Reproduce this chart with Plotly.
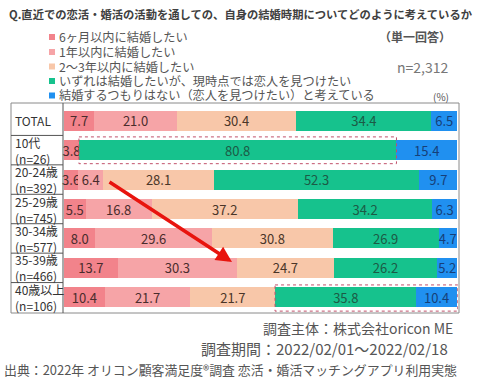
import plotly.graph_objects as go

# ---- data ----
categories = ["TOTAL", "10代<br>(n=26)", "20-24歳<br>(n=392)", "25-29歳<br>(n=745)",
              "30-34歳<br>(n=577)", "35-39歳<br>(n=466)", "40歳以上<br>(n=106)"]
series_names = ["6ヶ月以内に結婚したい", "1年以内に結婚したい", "2～3年以内に結婚したい",
                "いずれは結婚したいが、現時点では恋人を見つけたい",
                "結婚するつもりはない（恋人を見つけたい）と考えている"]
within_6m = [7.7, 3.8, 3.6, 5.5, 8.0, 13.7, 10.4]
within_1y = [21.0, 0.0, 6.4, 16.8, 29.6, 30.3, 21.7]
within_2_3y = [30.4, 0.0, 28.1, 37.2, 30.8, 24.7, 21.7]
someday = [34.4, 80.8, 52.3, 34.2, 26.9, 26.2, 35.8]
no_marriage = [6.5, 15.4, 9.7, 6.3, 4.7, 5.2, 10.4]
series_values = [within_6m, within_1y, within_2_3y, someday, no_marriage]

colors = ["#F2838B", "#F6A4A7", "#F8C7A9", "#16C28D", "#2090F0"]
text_colors = ["#4a2c2c", "#4a2c2c", "#4a3528", "#1c5a45", "#163f78"]

FONT = "Noto Sans CJK JP"
W, H = 490, 384
BAR_L, BAR_R = 64, 457          # pixel extent of 0..100 %
SCALE = (BAR_R - BAR_L) / 100.0
ML, MR, MT, MB = 44, 32, 106, 72  # plot area slightly wider so edge labels are not clipped
PW, PH = W - ML - MR, H - MT - MB
N = len(categories)


def px(x):
    return (x - ML) / PW


def py(y):
    return (H - MB - y) / PH


def dx(x):
    return (x - BAR_L) / SCALE


def dy(y):
    return (y - MT) / PH * N - 0.5


fig = go.Figure()
for name, vals, col, tcol in zip(series_names, series_values, colors, text_colors):
    fig.add_trace(go.Bar(
        y=categories, x=vals, name=name, orientation="h",
        marker=dict(color=col, line=dict(width=0)),
        text=[f"{v:.1f}" if v > 0 else "" for v in vals],
        textposition="inside", insidetextanchor="middle", textangle=0,
        textfont=dict(family=FONT, size=13, color=tcol),
        hoverinfo="skip",
    ))

shapes = []
annotations = []

# outer table box
shapes.append(dict(type="rect", xref="paper", yref="paper",
                   x0=px(11), x1=px(459), y0=py(313), y1=py(103),
                   line=dict(color="#8a8a8a", width=1)))
# label column right border
shapes.append(dict(type="line", xref="paper", yref="paper",
                   x0=px(63), x1=px(63), y0=py(313), y1=py(103),
                   line=dict(color="#555555", width=1)))
# row separators in label column
for i in range(N - 1):
    yy = 1 - (i + 1) / N
    shapes.append(dict(type="line", xref="paper", yref="paper",
                       x0=px(11), x1=px(63), y0=yy, y1=yy,
                       line=dict(color="#555555", width=1)))

# category labels
for i, c in enumerate(categories):
    yc = 1 - (i + 0.5) / N
    annotations.append(dict(text=c, xref="paper", yref="paper", x=px(13), y=yc,
                            xanchor="left", yanchor="middle", align="left", showarrow=False,
                            font=dict(family=FONT, size=12, color="#333333")))

# dotted highlight boxes (computed from data)
i10 = 1
x0 = within_6m[i10] + within_1y[i10] + within_2_3y[i10]
x1 = x0 + someday[i10]
shapes.append(dict(type="rect", xref="x", yref="y", x0=x0, x1=x1,
                   y0=i10 - 0.45, y1=i10 + 0.46,
                   line=dict(color="#c0506a", width=1, dash="dot")))
i40 = 6
x0 = within_6m[i40] + within_1y[i40] + within_2_3y[i40]
x1 = x0 + someday[i40] + no_marriage[i40]
shapes.append(dict(type="rect", xref="x", yref="y", x0=x0 - 0.1, x1=x1 + 0.2,
                   y0=i40 - 0.42, y1=i40 + 0.47,
                   line=dict(color="#c0506a", width=1, dash="dot")))

# red arrow
annotations.append(dict(text="", x=dx(232), y=dy(262), xref="x", yref="y",
                        ax=dx(108), ay=dy(181), axref="x", ayref="y",
                        showarrow=True, arrowhead=2, arrowsize=0.9,
                        arrowwidth=3.5, arrowcolor="#E8140E"))

# title
annotations.append(dict(text="<b>Q.直近での恋活・婚活の活動を通しての、自身の結婚時期についてどのように考えているか</b>",
                        xref="paper", yref="paper", x=px(7), y=py(14), xanchor="left",
                        yanchor="middle", showarrow=False,
                        font=dict(family=FONT, size=11.3, color="#404040")))

# manual legend
leg_y = [37, 52, 66.5, 81, 95.5]
for name, col, yy in zip(series_names, colors, leg_y):
    shapes.append(dict(type="rect", xref="paper", yref="paper",
                       x0=px(49), x1=px(55), y0=py(yy + 3), y1=py(yy - 3),
                       fillcolor=col, line=dict(width=0)))
    annotations.append(dict(text=name, xref="paper", yref="paper", x=px(57), y=py(yy),
                            xanchor="left", yanchor="middle", showarrow=False,
                            font=dict(family=FONT, size=12.2, color="#555555")))

annotations.append(dict(text="<b>（単一回答）</b>", xref="paper", yref="paper", x=px(453), y=py(37),
                        xanchor="right", yanchor="middle", showarrow=False,
                        font=dict(family=FONT, size=12, color="#555555")))
annotations.append(dict(text="n=2,312", xref="paper", yref="paper", x=px(451), y=py(67),
                        xanchor="right", yanchor="middle", showarrow=False,
                        font=dict(family=FONT, size=14, color="#777777")))
annotations.append(dict(text="(%)", xref="paper", yref="paper", x=px(451), y=py(96),
                        xanchor="right", yanchor="middle", showarrow=False,
                        font=dict(family=FONT, size=10, color="#555555")))

# footer
annotations.append(dict(text="調査主体：株式会社oricon ME", xref="paper", yref="paper",
                        x=px(455), y=py(328), xanchor="right", yanchor="middle", showarrow=False,
                        font=dict(family=FONT, size=14, color="#555555")))
annotations.append(dict(text="調査期間：2022/02/01～2022/02/18", xref="paper", yref="paper",
                        x=px(450), y=py(348), xanchor="right", yanchor="middle", showarrow=False,
                        font=dict(family=FONT, size=15, color="#555555")))
annotations.append(dict(text="出典：2022年 オリコン顧客満足度®調査 恋活・婚活マッチングアプリ利用実態",
                        xref="paper", yref="paper", x=px(2), y=py(369), xanchor="left",
                        yanchor="middle", showarrow=False,
                        font=dict(family=FONT, size=12.9, color="#555555")))

fig.update_layout(
    width=W, height=H, barmode="stack", bargap=0.32,
    margin=dict(l=ML, r=MR, t=MT, b=MB, pad=0, autoexpand=False),
    paper_bgcolor="white", plot_bgcolor="white",
    showlegend=False,
    uniformtext=dict(minsize=13, mode="show"),
    xaxis=dict(range=[dx(ML), dx(W - MR)], showgrid=False, zeroline=False, showticklabels=False,
               ticks="", showline=False, fixedrange=True),
    yaxis=dict(range=[N - 0.5, -0.5], autorange=False, showgrid=False, zeroline=False,
               showticklabels=False, ticks="", showline=False, fixedrange=True),
    shapes=shapes, annotations=annotations,
    font=dict(family=FONT),
)

fig.write_html("out.html", config={"displayModeBar": False},
               post_script="document.body.style.margin='0';document.body.style.padding='0';")
